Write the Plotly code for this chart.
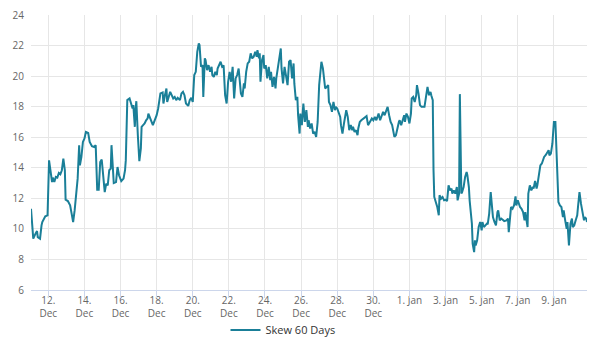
import pandas as pd
import plotly.graph_objects as go

# Hours since 2022-12-11 00:00 and the 60-day skew read at those times
hours = [1, 4, 7, 9, 10, 13, 15, 16, 20, 22, 23, 25, 27, 29, 30, 32, 34, 36, 38, 40,
         42, 44, 46, 47, 50, 53, 55, 57, 59, 61, 63, 65, 66, 68, 70, 72, 74, 77, 79, 82,
         85, 87, 89, 91, 93, 95, 97, 99, 101, 103, 105, 107, 108, 110, 111, 114, 116, 118, 121, 124,
         126, 127, 129, 132, 134, 136, 137, 139, 140, 141, 143, 145, 147, 148, 150, 152, 154, 156, 157, 159,
         161, 163, 165, 168, 170, 172, 173, 176, 177, 179, 181, 182, 184, 186, 188, 190, 192, 194, 196, 199,
         201, 203, 205, 207, 210, 212, 214, 216, 218, 220, 222, 224, 225, 227, 229, 230, 232, 233, 235, 237,
         239, 241, 242, 244, 246, 248, 249, 251, 253, 255, 257, 259, 261, 263, 265, 267, 269, 271, 273, 275,
         277, 280, 282, 284, 285, 287, 289, 291, 293, 295, 297, 299, 301, 302, 304, 305, 306, 308, 310, 311,
         313, 315, 317, 319, 320, 322, 324, 326, 327, 329, 331, 333, 334, 336, 338, 340, 342, 344, 346, 348,
         350, 351, 353, 355, 356, 358, 359, 361, 363, 365, 367, 369, 370, 372, 374, 376, 378, 380, 382, 384,
         386, 387, 389, 390, 392, 394, 396, 397, 399, 401, 403, 405, 406, 408, 410, 412, 413, 415, 417, 419,
         420, 422, 424, 426, 428, 429, 431, 433, 435, 436, 438, 440, 443, 445, 447, 449, 451, 454, 456, 458,
         460, 463, 465, 467, 469, 471, 474, 475, 477, 479, 481, 483, 484, 486, 488, 490, 491, 493, 495, 497,
         498, 500, 502, 504, 506, 507, 509, 511, 513, 514, 516, 518, 520, 522, 524, 526, 528, 530, 532, 533,
         535, 536, 537, 539, 541, 543, 544, 546, 548, 550, 552, 554, 556, 558, 560, 561, 563, 565, 567, 568,
         570, 571, 573, 574, 576, 578, 580, 581, 583, 584, 586, 587, 588, 590, 591, 592, 594, 596, 598, 600,
         601, 603, 605, 607, 608, 610, 612, 614, 615, 617, 619, 621, 622, 624, 626, 628, 630, 633, 635, 636,
         638, 639, 641, 643, 645, 646, 648, 649, 651, 653, 655, 657, 658, 661, 662, 664, 666, 668, 669, 671,
         673, 674, 676, 678, 680, 681, 683, 685, 687, 689, 690, 692, 694, 696, 698, 699, 701, 702, 704, 706,
         708, 709, 711, 713, 714, 716, 718, 720, 721, 723, 725, 727, 728, 730, 732, 734, 736, 737, 739, 740]

skew_60d = [11.32, 9.36, 9.69, 9.86, 9.46, 9.36, 10.23, 10.45, 10.82, 10.89, 10.89, 14.49, 13.84, 13.07, 13.36, 13.07, 13.40, 13.36, 13.66, 13.57,
            13.84, 14.60, 13.84, 11.91, 11.82, 11.54, 11.00, 10.45, 11.21, 12.31, 13.29, 15.48, 14.16, 14.71, 15.69, 15.91, 16.35, 16.28, 15.69, 15.41,
            15.36, 15.48, 12.57, 12.57, 14.38, 14.54, 13.29, 12.41, 12.96, 12.85, 13.84, 13.95, 15.48, 13.84, 13.00, 13.07, 14.05, 13.51, 13.13, 13.29,
            13.84, 14.50, 18.43, 18.54, 18.10, 17.88, 18.10, 16.68, 17.88, 18.36, 16.13, 14.43, 15.26, 16.68, 16.79, 16.90, 17.11, 17.23, 17.55, 17.27,
            16.96, 16.79, 17.05, 17.44, 17.88, 18.64, 18.87, 18.93, 18.21, 18.75, 19.19, 18.31, 18.64, 18.97, 18.75, 18.54, 18.64, 18.43, 18.58, 18.43,
            18.87, 18.97, 18.75, 18.21, 18.05, 18.43, 18.58, 18.31, 20.07, 20.28, 21.59, 22.14, 22.03, 20.61, 20.72, 18.64, 21.16, 21.05, 20.39, 20.72,
            20.28, 20.61, 20.07, 19.95, 20.28, 20.07, 20.50, 20.72, 20.94, 20.61, 20.70, 18.75, 18.21, 19.63, 20.28, 19.63, 20.61, 18.54, 19.85, 20.07,
            20.50, 18.87, 18.64, 19.52, 19.19, 20.28, 20.83, 20.94, 21.49, 21.16, 21.27, 21.59, 21.27, 21.70, 21.16, 21.49, 19.63, 21.05, 21.38, 20.50,
            20.72, 19.85, 20.61, 19.74, 20.28, 19.30, 19.95, 19.19, 19.85, 20.50, 21.05, 21.81, 20.50, 19.52, 20.61, 19.85, 19.41, 20.94, 21.05, 19.85,
            20.83, 19.52, 18.43, 18.64, 17.44, 16.24, 17.55, 16.79, 18.21, 17.00, 17.77, 16.68, 17.11, 16.57, 16.90, 16.24, 16.35, 16.02, 17.00, 19.41,
            20.83, 20.94, 20.50, 19.85, 19.19, 19.30, 19.41, 18.31, 18.10, 17.66, 18.31, 17.77, 17.99, 17.88, 17.66, 17.33, 16.79, 16.24, 16.90, 17.55,
            17.77, 17.33, 16.46, 16.79, 16.46, 16.68, 16.35, 16.46, 16.13, 16.57, 17.00, 17.11, 17.23, 17.33, 17.38, 16.79, 17.00, 17.23, 17.11, 17.33,
            17.11, 17.55, 17.11, 17.44, 17.66, 17.44, 17.77, 17.99, 17.44, 17.00, 16.79, 16.35, 16.02, 16.13, 16.68, 17.00, 17.11, 16.79, 17.11, 17.44,
            17.00, 17.55, 17.33, 16.90, 17.55, 18.54, 18.64, 18.31, 18.75, 19.41, 18.87, 18.10, 17.99, 17.99, 17.99, 18.64, 19.30, 18.75, 18.97, 18.75,
            18.43, 13.84, 12.09, 11.76, 11.43, 10.89, 12.20, 11.98, 12.09, 11.87, 11.91, 11.82, 12.85, 12.52, 12.64, 12.31, 12.52, 12.31, 12.74, 11.87,
            12.31, 18.82, 12.31, 12.41, 12.74, 13.40, 13.72, 13.51, 12.74, 11.87, 10.67, 10.34, 9.03, 8.48, 9.25, 8.92, 9.25, 10.12, 10.45, 9.90,
            10.45, 10.12, 10.23, 10.34, 10.30, 11.00, 12.41, 11.54, 10.77, 10.45, 10.23, 11.10, 11.21, 10.56, 10.67, 10.60, 10.51, 10.56, 10.67, 9.79,
            10.77, 11.43, 11.32, 11.54, 12.13, 11.54, 11.87, 11.65, 11.43, 11.32, 11.10, 10.56, 11.10, 10.12, 12.31, 12.85, 12.52, 12.74, 12.64, 13.13,
            12.64, 12.85, 13.51, 14.16, 14.28, 14.49, 14.71, 14.82, 15.04, 15.15, 14.82, 14.93, 15.59, 17.00, 17.00, 15.59, 11.98, 11.76, 11.54, 11.43,
            10.77, 11.21, 10.56, 10.01, 10.45, 8.92, 10.34, 10.67, 10.12, 10.23, 10.56, 10.89, 11.43, 12.41, 11.65, 11.00, 10.56, 10.77, 10.67, 10.45]

series_name = "Skew 60 Days"
start = pd.Timestamp("2022-12-11 00:00")
times = [start + pd.Timedelta(hours=h) for h in hours]

tick_dates = ["2022-12-12", "2022-12-14", "2022-12-16", "2022-12-18", "2022-12-20",
              "2022-12-22", "2022-12-24", "2022-12-26", "2022-12-28", "2022-12-30",
              "2023-01-01", "2023-01-03", "2023-01-05", "2023-01-07", "2023-01-09"]
# first line of each tick label, and second line (month under the Dec days)
tick_labels_top = ["12.", "14.", "16.", "18.", "20.", "22.", "24.", "26.", "28.", "30.",
                   "1. Jan", "3. Jan", "5. Jan", "7. Jan", "9. Jan"]
tick_labels_bottom = ["Dec"] * 10 + [""] * 5
y_ticks = [6, 8, 10, 12, 14, 16, 18, 20, 22, 24]

FONT = "Open Sans"
LABEL_FONT = dict(family=FONT, size=10, color="#666666")

fig = go.Figure()
fig.add_trace(go.Scatter(
    x=times, y=skew_60d, mode="lines", name=series_name,
    line=dict(color="#1a7f98", width=2),
    showlegend=True,
))
# empty trace so the second (label-only) x axis is drawn
fig.add_trace(go.Scatter(x=[], y=[], xaxis="x2", yaxis="y", mode="lines",
                         showlegend=False, hoverinfo="skip"))

x_range = [times[0], times[-1]]

fig.update_layout(
    width=600, height=342,
    margin=dict(l=31, r=13, t=15, b=52, autoexpand=False),
    paper_bgcolor="white", plot_bgcolor="white",
    font=dict(family=FONT, size=10, color="#666666"),
    showlegend=True,
    legend=dict(orientation="h", x=283 / 600, xref="container", xanchor="center",
                y=12 / 342, yref="container", yanchor="middle",
                font=dict(family=FONT, size=11, color="#333333"),
                bgcolor="rgba(0,0,0,0)"),
    xaxis=dict(
        type="date", automargin=False,
        range=x_range,
        tickvals=tick_dates, ticktext=tick_labels_top,
        showgrid=True, gridcolor="#e6e6e6", gridwidth=1,
        showline=True, linecolor="#ccd6eb", linewidth=1,
        ticks="", ticklabelstandoff=1,
        tickfont=LABEL_FONT,
        zeroline=False,
    ),
    xaxis2=dict(
        type="date", automargin=False,
        overlaying="x", anchor="y", side="bottom",
        range=x_range,
        tickvals=tick_dates, ticktext=tick_labels_bottom,
        showgrid=False, showline=False, zeroline=False,
        ticks="outside", ticklen=7, tickcolor="#ccd6eb", tickwidth=1,
        ticklabelstandoff=7,
        tickfont=LABEL_FONT,
    ),
    yaxis=dict(
        range=[6, 24], automargin=False,
        tickvals=y_ticks,
        showgrid=True, gridcolor="#e6e6e6", gridwidth=1,
        showline=False, zeroline=False,
        ticks="", ticklabelstandoff=6,
        tickfont=LABEL_FONT,
    ),
)

fig.write_html("out.html")
